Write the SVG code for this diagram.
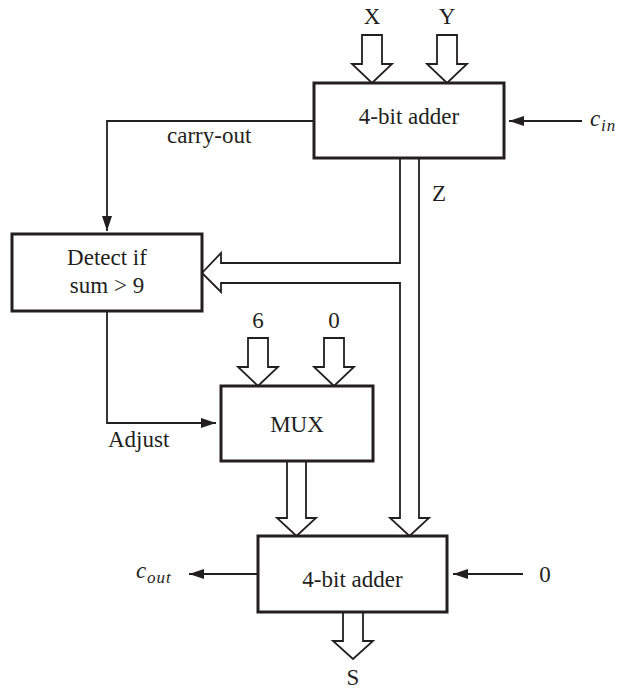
<svg xmlns="http://www.w3.org/2000/svg" width="624" height="690" viewBox="0 0 624 690">
<style>
text{font-family:"Liberation Serif","Times New Roman",serif;font-size:23px;fill:#231f20}
.c{text-anchor:middle}
.it{font-style:italic}
.sub{font-size:17px;font-style:italic;letter-spacing:1px}
.box{fill:#fff;stroke:#231f20;stroke-width:3}
.ln{fill:none;stroke:#231f20;stroke-width:1.8}
.bus{fill:#fff;stroke:#231f20;stroke-width:1.8;stroke-linejoin:miter}
</style>
<defs>
<marker id="ah" markerWidth="16" markerHeight="12" refX="15" refY="6" orient="auto" markerUnits="userSpaceOnUse">
<path d="M0,1 L15,6 L0,11 Z" fill="#231f20"/>
</marker>
</defs>
<rect width="624" height="690" fill="#fff"/>
<g id="connectors">
<polyline class="ln" points="314,121 107,121 107,231" marker-end="url(#ah)"/>
<polyline class="ln" points="107,311 107,423 216,423" marker-end="url(#ah)"/>
<line class="ln" x1="582" y1="121" x2="509" y2="121" marker-end="url(#ah)"/>
<line class="ln" x1="258" y1="574" x2="189" y2="574" marker-end="url(#ah)"/>
<line class="ln" x1="523" y1="574" x2="453" y2="574" marker-end="url(#ah)"/>
<polygon class="bus" points="362,35 382,35 382,64 392,64 372,83 352,64 362,64"/>
<polygon class="bus" points="437,35 457,35 457,64 467,64 447,83 427,64 437,64"/>
<polygon class="bus" points="248,338 268,338 268,367 278,367 258,386 238,367 248,367"/>
<polygon class="bus" points="324,338 344,338 344,367 354,367 334,386 314,367 324,367"/>
<polygon class="bus" points="287,461 306,461 306,518 316,518 296.5,536 277,518 287,518"/>
<polygon class="bus" points="343,612 363,612 363,641 373,641 353,659 333,641 343,641"/>
<polyline class="ln" points="400,158 400,263 221,263 221,253 202,273 221,292 221,283 400,283 400,518 390,518 409.5,536 429,518 419,518 419,158"/>
</g>
<g id="adder-top">
<rect class="box" x="314" y="83" width="190" height="75"/>
<text class="c" x="409" y="124">4-bit adder</text>
</g>
<g id="detect">
<rect class="box" x="12" y="234" width="190" height="77"/>
<text class="c" x="107" y="265">Detect if</text>
<text class="c" x="107" y="293">sum &gt; 9</text>
</g>
<g id="mux">
<rect class="box" x="221" y="386" width="152" height="75"/>
<text class="c" x="297" y="432">MUX</text>
</g>
<g id="adder-bottom">
<rect class="box" x="258" y="536" width="189" height="76"/>
<text class="c" x="352.5" y="587">4-bit adder</text>
</g>
<g id="labels">
<text class="c" x="372" y="24">X</text>
<text class="c" x="447" y="24">Y</text>
<text x="590" y="126" class="it">c</text><text x="601" y="131" class="sub">in</text>
<text x="167" y="143">carry-out</text>
<text x="432" y="201">Z</text>
<text class="c" x="258" y="328">6</text>
<text class="c" x="334" y="328">0</text>
<text x="108" y="447">Adjust</text>
<text x="136" y="578" class="it">c</text><text x="147" y="583" class="sub">out</text>
<text class="c" x="545" y="582">0</text>
<text class="c" x="353" y="685">S</text>
</g>
</svg>
